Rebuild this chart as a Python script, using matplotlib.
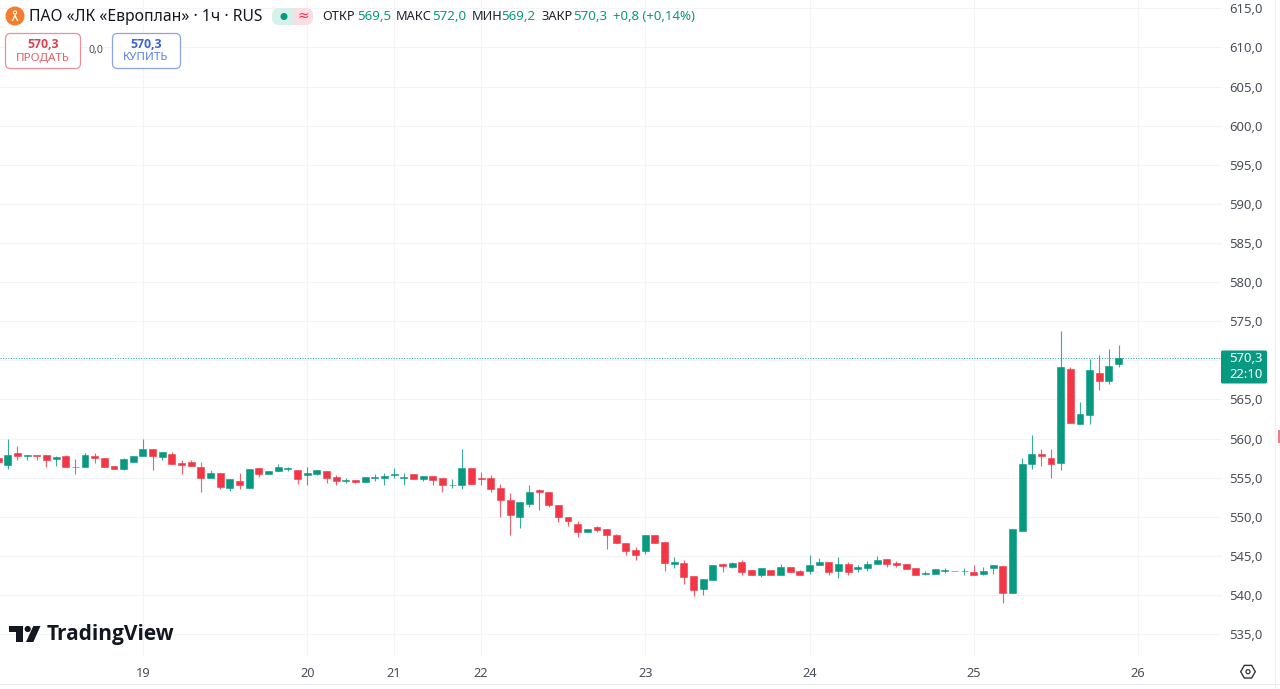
from matplotlib import pyplot as plt
from matplotlib.patches import Circle, FancyBboxPatch, Polygon, Rectangle, RegularPolygon

# hourly bars, left to right
opens = [
    557.5, 556.6, 558.1, 557.8, 557.9, 557.9, 557.4, 557.7, 556.4, 556.3, 557.7, 557.5, 556.5, 556.1, 557.0,
    557.8, 558.6, 557.6, 558.0, 556.9, 557.0, 556.4, 554.9, 555.6, 553.7, 554.6, 553.7, 556.2, 555.4, 555.8,
    556.1, 556.0, 555.3, 555.5, 555.9, 555.1, 554.6, 554.7, 554.4, 555.0, 555.0, 555.3, 555.0, 555.5, 554.8,
    555.2, 555.0, 554.0, 554.0, 556.2, 555.0, 554.9, 553.7, 552.2, 550.0, 551.6, 553.4, 553.1, 551.5, 549.9,
    549.1, 548.0, 548.7, 548.4, 547.6, 546.7, 545.8, 545.6, 547.6, 546.8, 544.0, 544.1, 542.4, 540.7, 541.9,
    543.9, 543.6, 544.2, 543.2, 542.5, 543.2, 542.5, 543.6, 543.0, 543.0, 543.8, 544.2, 543.0, 544.0, 543.3,
    543.5, 544.0, 544.6, 544.1, 544.0, 543.4, 542.7, 542.7, 543.1, 543.1, 543.0, 542.9, 542.7, 543.5, 543.7,
    540.2, 548.2, 556.7, 558.0, 557.5, 556.9, 568.9, 561.9, 563.0, 568.4, 567.3, 569.5,
]
highs = [
    557.5, 559.9, 559.0, 557.9, 557.9, 557.9, 557.8, 557.9, 557.4, 558.1, 558.1, 557.5, 556.5, 557.5, 557.8,
    559.9, 558.6, 558.3, 558.3, 557.3, 557.2, 557.0, 556.0, 555.6, 554.8, 555.6, 556.1, 556.2, 555.9, 556.8,
    556.4, 556.0, 556.3, 556.0, 555.9, 555.3, 555.0, 554.7, 555.1, 555.4, 555.6, 556.2, 555.6, 555.5, 555.2,
    555.2, 555.0, 554.8, 558.7, 556.2, 555.7, 555.3, 554.2, 553.0, 551.9, 554.0, 553.5, 553.1, 551.5, 549.9,
    549.4, 548.4, 548.8, 548.4, 547.8, 546.7, 546.1, 547.6, 547.6, 546.8, 544.9, 544.5, 542.4, 542.0, 543.8,
    544.0, 544.2, 544.5, 543.2, 543.4, 543.2, 543.9, 543.6, 543.2, 545.1, 544.7, 544.2, 544.8, 544.2, 543.8,
    544.4, 545.0, 544.6, 544.3, 544.0, 543.4, 543.0, 543.3, 543.4, 543.1, 543.4, 543.8, 543.6, 543.8, 543.7,
    548.4, 557.5, 560.4, 558.6, 558.6, 573.7, 569.2, 564.7, 570.2, 570.7, 571.5, 572.0,
]
lows = [
    557.0, 556.1, 557.3, 557.2, 557.3, 556.3, 556.5, 556.3, 555.5, 556.3, 556.9, 556.4, 556.1, 556.0, 557.0,
    557.8, 556.0, 557.2, 556.8, 555.5, 556.5, 553.1, 554.9, 553.5, 553.3, 553.6, 553.7, 555.1, 555.4, 555.8,
    555.8, 554.2, 554.1, 555.3, 554.3, 554.0, 554.3, 554.3, 554.4, 554.6, 554.0, 555.0, 554.0, 554.8, 554.6,
    554.0, 553.1, 553.7, 553.5, 554.2, 554.1, 553.2, 550.0, 547.6, 548.6, 551.2, 550.8, 551.2, 549.3, 548.8,
    547.4, 548.0, 548.0, 545.9, 546.6, 545.1, 544.5, 545.2, 546.6, 543.0, 543.5, 541.4, 539.8, 540.0, 541.9,
    542.9, 543.5, 542.6, 542.5, 542.3, 542.5, 542.5, 542.9, 542.5, 542.7, 543.8, 542.6, 542.2, 542.5, 542.9,
    543.0, 544.0, 543.6, 543.6, 543.3, 542.5, 542.5, 542.7, 542.8, 543.0, 542.5, 542.5, 542.6, 542.7, 539.0,
    540.2, 548.2, 556.1, 556.5, 555.0, 556.0, 562.0, 561.9, 561.9, 566.2, 567.0, 569.2,
]
closes = [
    557.0, 557.9, 557.7, 557.9, 557.8, 557.3, 557.6, 556.3, 556.3, 557.9, 557.5, 556.4, 556.1, 557.4, 557.8,
    558.6, 557.7, 558.3, 556.8, 556.6, 556.5, 554.9, 555.6, 553.8, 554.8, 554.1, 556.1, 555.4, 555.9, 556.3,
    556.2, 554.8, 555.6, 556.0, 555.0, 554.6, 554.7, 554.4, 555.1, 555.1, 555.2, 555.4, 555.1, 554.8, 555.2,
    554.7, 554.0, 554.1, 556.2, 554.2, 554.8, 553.6, 552.1, 550.2, 551.9, 553.2, 553.1, 551.5, 549.9, 549.5,
    548.0, 548.4, 548.3, 547.6, 546.6, 545.6, 545.1, 547.6, 546.6, 544.1, 544.2, 542.3, 540.6, 542.0, 543.8,
    543.7, 544.1, 542.9, 542.6, 543.4, 542.5, 543.6, 542.9, 542.6, 543.8, 544.2, 542.9, 544.0, 542.9, 543.6,
    544.0, 544.5, 544.0, 543.8, 543.3, 542.5, 542.8, 543.3, 543.2, 543.0, 543.1, 542.5, 543.1, 543.8, 540.2,
    548.4, 556.8, 558.0, 557.7, 556.8, 569.2, 562.0, 563.1, 568.7, 567.3, 569.3, 570.3,
]

price_ticks = [535, 540, 545, 550, 555, 560, 565, 570, 575, 580, 585, 590, 595, 600,
               605, 610, 615]
day_bars = [15, 32, 41, 50, 67, 84, 101, 118]
day_labels = ["19", "20", "21", "22", "23", "24", "25", "26"]
last_price = 570.3

GREEN = "#089981"
RED = "#F23645"
GRID = "#F3F4F6"
TEXT = "#4A4E59"
FONT = "Noto Sans"

plt.rcParams['font.family'] = [FONT, 'DejaVu Sans']

fig = plt.figure(figsize=(12.8, 6.89), dpi=100, facecolor="white")

# chart pane: pixels 0..1222 across, 0..656 down
ax = fig.add_axes([0, 1 - 656 / 689, 1222 / 1280, 656 / 689])
for spine in ax.spines.values():
    spine.set_visible(False)
ax.set_xlim(0.2, 111.9 + 14.8)
ax.set_ylim(532.19, 616.07)

# the 570,0 label sits behind the last price tag
ax.set_yticks(price_ticks)
ax.set_yticklabels(["" if p == 570 else f"{p:.1f}".replace(".", ",") for p in price_ticks],
                   fontsize=9.4, color=TEXT)
ax.yaxis.tick_right()
ax.set_xticks(day_bars)
ax.set_xticklabels(day_labels, fontsize=9.2, color=TEXT)
ax.tick_params(axis="y", length=0, pad=5)
ax.tick_params(axis="x", length=0, pad=8)
ax.grid(True, color=GRID, linewidth=0.8)
ax.set_axisbelow(True)

ax.axhline(last_price, color=GREEN, linestyle=(0, (1, 1.5)), linewidth=0.75, alpha=0.8, zorder=1)

# Draw candles
for i, (o, h, l, c) in enumerate(zip(opens, highs, lows, closes)):
    color = GREEN if c >= o else RED
    ax.vlines(i, l, h, color=color, linewidth=0.8, alpha=0.8, zorder=2)
    ax.bar(i, abs(c - o), bottom=min(o, c), width=0.72, color=color,
           edgecolor=color, linewidth=0.4, zorder=3)

# everything around the chart is placed in screen pixels
over = fig.add_axes([0, 0, 1, 1], facecolor="none")
over.set_xlim(0, 1280)
over.set_ylim(689, 0)
over.axis("off")


def label(x, y, s, color="#131722", size=9, ha="left", weight="normal", family=None):
    over.text(x, y, s, color=color, fontsize=size, ha=ha, va="center", fontweight=weight,
              family=family or [FONT, 'DejaVu Sans'])


# Symbol line
over.add_patch(Circle((15, 16), 9.5, color="#F57C2A", lw=0))
over.add_patch(Circle((15, 12.5), 1.6, fc="none", ec="white", lw=0.8))
over.add_patch(Polygon([(15, 14), (11.5, 21), (13, 21), (15, 17), (17, 21), (18.5, 21)],
                       fc="white", lw=0))
label(29, 17, "ПАО «ЛК «Европлан» · 1ч · RUS", size=11.3)
over.add_patch(FancyBboxPatch((272, 8), 30, 17, boxstyle="round,pad=0,rounding_size=7",
                              fc="#D6F0EA", lw=0))
over.add_patch(FancyBboxPatch((283, 8), 30, 17, boxstyle="round,pad=0,rounding_size=7",
                              fc="#FBDDE4", lw=0))
over.add_patch(Rectangle((283, 8), 10, 17, fc="#D6F0EA", lw=0))
over.add_patch(Circle((284, 16.5), 3.5, color=GREEN, lw=0))
label(303, 16, "≈", color=RED, size=10, ha="center")

for x, name, x_val, val in [(322, "ОТКР", 357, "569,5"), (396, "МАКС", 432, "572,0"),
                            (472, "МИН", 501, "569,2"), (542, "ЗАКР", 573, "570,3")]:
    label(x, 17, name, color="#1E222D", size=9.2)
    label(x_val, 17, val, color=GREEN, size=9.6)
label(613, 17, "+0,8 (+0,14%)", color=GREEN, size=9.5)

# Sell and buy buttons
over.add_patch(FancyBboxPatch((5.5, 33.5), 75, 35, boxstyle="round,pad=0,rounding_size=5",
                              fc="white", ec="#EC8F99", lw=0.9))
label(43, 44, "570,3", color="#D8434F", size=8.8, ha="center", weight="bold", family="Open Sans")
label(43, 58, "ПРОДАТЬ", color="#E0606B", size=8.4, ha="center")
label(96, 50, "0,0", color=TEXT, size=7.6, ha="center")
over.add_patch(FancyBboxPatch((112.5, 33.5), 68, 35, boxstyle="round,pad=0,rounding_size=5",
                              fc="white", ec="#8AA4E8", lw=0.9))
label(146, 44, "570,3", color="#3A63D8", size=8.8, ha="center", weight="bold", family="Open Sans")
label(146, 58, "КУПИТЬ", color="#5C82E0", size=8.4, ha="center")

# Last price tag
over.add_patch(FancyBboxPatch((1221, 350.5), 46, 33, boxstyle="round,pad=0,rounding_size=1.5",
                              fc=GREEN, lw=0))
label(1263, 358, "570,3", color="white", size=9.4, ha="right")
label(1263, 374, "22:10", color="white", size=9.4, ha="right")

# TradingView logo
over.add_patch(Polygon([(9, 626), (23, 626), (23, 642), (16, 642), (16, 632), (9, 632)],
                       fc="#131722", lw=0))
over.add_patch(Circle((27.7, 629), 3.1, color="#131722", lw=0))
over.add_patch(Polygon([(33.3, 626), (40.5, 626), (33.3, 642), (26, 642)], fc="#131722", lw=0))
label(47, 634.5, "TradingView", size=15, weight="bold", family="Open Sans")

# Settings icon
over.add_patch(RegularPolygon((1248, 671.7), 6, radius=7.3, orientation=0.5236, fc="white",
                              ec="#30343F", lw=1))
over.add_patch(Circle((1248, 671.7), 2, fc="white", ec="#30343F", lw=0.9))

# Window edges
over.add_patch(Rectangle((0, 684), 1280, 1.2, fc="#E6E8EC", lw=0))
over.add_patch(Rectangle((1275, 0), 1.2, 689, fc="#EDEEF1", lw=0))
over.add_patch(Rectangle((1278, 430), 2, 13, fc="#EE7C86", lw=0))

plt.savefig("out.png", dpi=100, facecolor="white")
